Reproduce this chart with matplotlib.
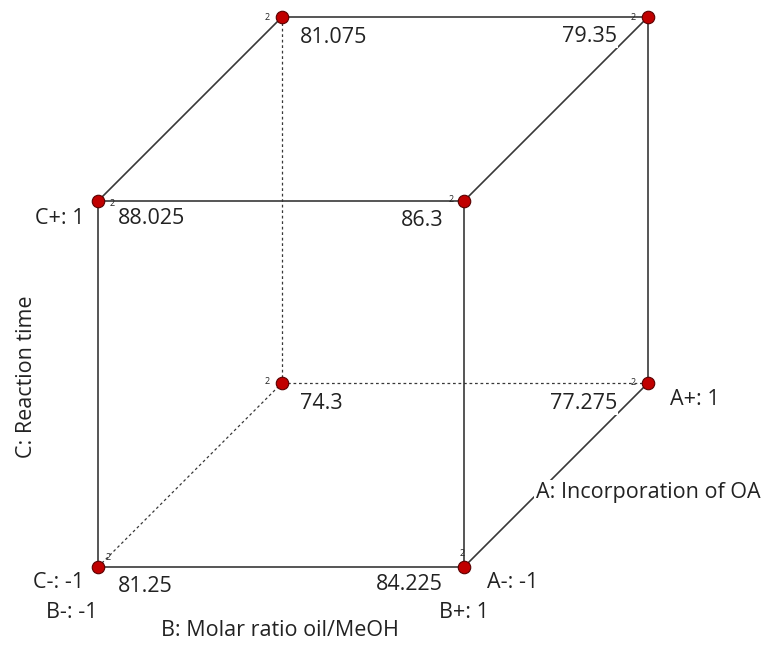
import matplotlib.pyplot as plt

plt.rcParams["font.family"] = ["Open Sans", "DejaVu Sans"]

# 2^3 factorial design: coded levels and mean response at each corner
a_level = [-1, -1, -1, -1, 1, 1, 1, 1]
b_level = [-1, 1, -1, 1, -1, 1, -1, 1]
c_level = [-1, -1, 1, 1, -1, -1, 1, 1]
response = ["81.25", "84.225", "88.025", "86.3", "74.3", "77.275", "81.075", "79.35"]
replicates = [2, 2, 2, 2, 2, 2, 2, 2]

factor_names = ["A: Incorporation of OA", "B: Molar ratio oil/MeOH", "C: Reaction time"]

DEPTH = 0.503  # oblique shift of the A axis, relative to the front edge
FS = 15.5


def project(a, b, c):
    x = (b + 1) / 2 + DEPTH * (a + 1) / 2
    y = (c + 1) / 2 + DEPTH * (a + 1) / 2
    return x, y


fig = plt.figure(figsize=(7.68, 6.46), dpi=100)
ax = fig.add_axes([0, 0, 1, 1])
ax.set_xlim(-98 / 366, 670 / 366)
ax.set_ylim(-79 / 366, 567 / 366)
ax.axis("off")

corners = list(zip(a_level, b_level, c_level))
hidden = (1, -1, -1)
line_col = "#383838"

# cube edges: corners that differ in exactly one factor
for i in range(len(corners)):
    for j in range(i + 1, len(corners)):
        diff = sum(p != q for p, q in zip(corners[i], corners[j]))
        if diff != 1:
            continue
        x0, y0 = project(*corners[i])
        x1, y1 = project(*corners[j])
        ls = (0, (2.2, 2.2)) if hidden in (corners[i], corners[j]) else "-"
        lw = 0.9 if ls != "-" else 1.2
        ax.plot([x0, x1], [y0, y1], color=line_col, lw=lw, ls=ls, zorder=1)

# placement of the value label and the replicate count per corner (pixels)
value_off = {
    (-1, -1, -1): (20, -20, "left"),
    (-1, 1, -1): (-21, -17, "right"),
    (-1, -1, 1): (20, -18, "left"),
    (-1, 1, 1): (-21, -19, "right"),
    (1, -1, -1): (18, -21, "left"),
    (1, 1, -1): (-31, -21, "right"),
    (1, -1, 1): (18, -21, "left"),
    (1, 1, 1): (-31, -20, "right"),
}
rep_off = {
    (-1, -1, -1): (10, 10),
    (-1, 1, -1): (-2, 13),
    (-1, -1, 1): (14, -3),
    (-1, 1, 1): (-13, 1),
    (1, -1, -1): (-15, 1),
    (1, 1, -1): (-15, 0),
    (1, -1, 1): (-15, -1),
    (1, 1, 1): (-15, -1),
}

for corner, val, n in zip(corners, response, replicates):
    x, y = project(*corner)
    ax.plot(x, y, "o", ms=9, mfc="#c00000", mec="#5a0000", mew=0.8, zorder=3)
    dx, dy, ha = value_off[corner]
    ax.annotate(val, (x, y), xytext=(dx, dy), textcoords="offset pixels",
                ha=ha, va="center", fontsize=FS, color="#222222", zorder=2,
                bbox=dict(boxstyle="square,pad=0.05", fc="white", ec="none"))
    rx, ry = rep_off[corner]
    ax.annotate(str(n), (x, y), xytext=(rx, ry), textcoords="offset pixels",
                ha="center", va="center", fontsize=6.5, color="#222222", zorder=2)

txt = dict(fontsize=FS, color="#222222")

# level labels
x, y = project(-1, -1, 1)
ax.annotate("C+: 1", (x, y), xytext=(-14, -18), textcoords="offset pixels",
            ha="right", va="center", **txt)
x, y = project(-1, -1, -1)
ax.annotate("C-: -1", (x, y), xytext=(-14, -16), textcoords="offset pixels",
            ha="right", va="center", **txt)
ax.annotate("B-: -1", (x, y), xytext=(-26, -46), textcoords="offset pixels",
            ha="center", va="center", **txt)
x, y = project(-1, 1, -1)
ax.annotate("B+: 1", (x, y), xytext=(0, -46), textcoords="offset pixels",
            ha="center", va="center", **txt)
ax.annotate("A-: -1", (x, y), xytext=(23, -16), textcoords="offset pixels",
            ha="left", va="center", **txt)
x, y = project(1, 1, -1)
ax.annotate("A+: 1", (x, y), xytext=(22, -17), textcoords="offset pixels",
            ha="left", va="center", **txt)

# factor names
xa, ya = project(0, 1, -1)
ax.annotate(factor_names[0], (xa, ya), xytext=(92, -18), textcoords="offset pixels",
            ha="center", va="center", zorder=2,
            bbox=dict(boxstyle="square,pad=0.1", fc="white", ec="none"), **txt)
xb, yb = project(-1, 0, -1)
ax.annotate(factor_names[1], (xb, yb), xytext=(-1, -63), textcoords="offset pixels",
            ha="center", va="center", **txt)
xc, yc = project(-1, -1, 0)
ax.annotate(factor_names[2], (xc, yc), xytext=(-72, 7), textcoords="offset pixels",
            ha="center", va="center", rotation=90, **txt)

fig.savefig("out.png", dpi=100, facecolor="white")
